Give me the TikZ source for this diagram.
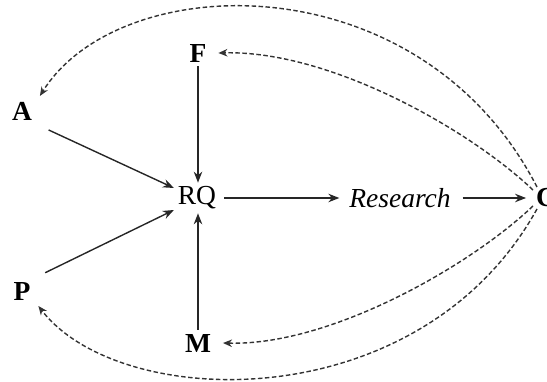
\documentclass[tikz,border=0pt]{standalone}
\usepackage{fontspec}
\setmainfont{Liberation Serif}
\usetikzlibrary{arrows.meta}
\begin{document}
\begin{tikzpicture}[x=1pt,y=-1pt,
  lbl/.style={inner sep=4pt, outer sep=0pt, font=\fontsize{27.5}{30}\selectfont},
  blbl/.style={lbl, font=\fontsize{27.5}{30}\selectfont\bfseries},
  solidarrow/.style={line width=1.4pt, color=black!85, -{Stealth[length=11pt,width=8.5pt]}},
  dasharrow/.style={line width=1.4pt, color=black!80, dash pattern=on 4.5pt off 2.5pt, -{Stealth[length=9pt,width=7.5pt]}}]
\useasboundingbox (0,0) rectangle (547,382);
\clip (0,0) rectangle (547,382);
\node[blbl] (F) at (198,53) {F};
\node[blbl] (A) at (22,111) {A};
\node[blbl] (P) at (22,291) {P};
\node[blbl] (M) at (198,343) {M};
\node[lbl] (RQ) at (197,198) {RQ};
\node[lbl] (R) at (400,198) {\itshape Research};
\node[blbl] (C) at (546,198) {C};
\coordinate (ca) at ([shift={(-9,-11)}]C.center);
\coordinate (cf) at ([shift={(-13,-8)}]C.center);
\coordinate (cm) at ([shift={(-13,8)}]C.center);
\coordinate (cp) at ([shift={(-9,11)}]C.center);
% solid arrows
\draw[solidarrow] (F.south) -- (F.south |- RQ.north);
\draw[solidarrow] (M.north) -- (M.north |- RQ.south);
\draw[solidarrow,shorten <=14pt] (A.south east) -- ([yshift=10]RQ.west);
\draw[solidarrow,shorten <=12pt] (P.north east) -- ([yshift=-12]RQ.west);
\draw[solidarrow,shorten <=4pt,shorten >=6pt] (RQ.east) -- (R.west);
\draw[solidarrow,shorten <=8pt,shorten >=6pt] (R.east) -- (C.west);
% dashed feedback arrows
\draw[dasharrow] (ca) .. controls (420,-40) and (120,-32) .. ([shift={(4,-2)}]A.north east);
\draw[dasharrow] (cf) .. controls (470,130) and (330,50) .. ([xshift=8]F.east);
\draw[dasharrow] (cm) .. controls (470,266) and (330,346) .. ([xshift=8]M.east);
\draw[dasharrow] (cp) .. controls (420,420) and (120,412) .. ([shift={(4,2)}]P.south east);
\end{tikzpicture}
\end{document}
